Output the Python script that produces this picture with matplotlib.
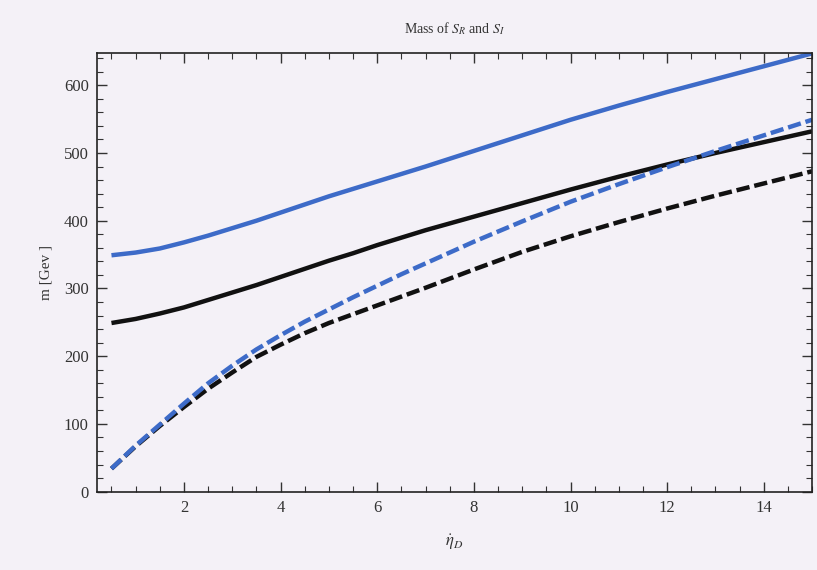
import matplotlib
matplotlib.use("Agg")
import matplotlib.pyplot as plt
from matplotlib.ticker import MultipleLocator

x = [0.5, 1, 1.5, 2, 2.5, 3, 3.5, 4, 4.5, 5, 5.5, 6, 6.5, 7, 8, 9, 10, 11, 12, 13, 14, 15]
blue_solid = [349, 353, 359, 368, 378, 389, 400, 412, 424, 436, 447, 458, 469, 480, 503, 526, 549, 570, 590, 609, 628, 647]
black_solid = [249, 255, 263, 272, 283, 294, 305, 317, 329, 341, 352, 364, 375, 386, 406, 426, 446, 465, 483, 500, 516, 532]
blue_dashed = [34, 68, 99, 130, 160, 186, 210, 231, 251, 269, 287, 304, 321, 337, 369, 399, 428, 454, 479, 503, 526, 549]
black_dashed = [34, 67, 97, 125, 152, 176, 199, 217, 234, 249, 262, 275, 288, 301, 328, 354, 377, 398, 418, 437, 455, 473]

title = r"Mass of $S_R$ and $S_I$"
xlabel = r"$\dot{\eta}_D$"
ylabel = "m [Gev ]"

plt.rcParams['font.family'] = ['Liberation Serif', 'DejaVu Serif']
plt.rcParams['mathtext.fontset'] = 'stix'

bg = '#f4f1f7'
fig = plt.figure(figsize=(8.17, 5.70), dpi=100, facecolor=bg)
ax = fig.add_axes([0.1187, 0.1374, 0.8753, 0.7701], facecolor=bg)

blue = '#3d6bc8'
lw = 3.2
ax.plot(x, black_dashed, color='#111111', lw=lw, dashes=(3.0, 1.1), dash_capstyle='butt')
ax.plot(x, black_solid, color='#111111', lw=lw, solid_capstyle='butt', solid_joinstyle='round')
ax.plot(x, blue_solid, color=blue, lw=lw, solid_capstyle='butt', solid_joinstyle='round')
ax.plot(x, blue_dashed, color=blue, lw=lw, dashes=(3.0, 1.1), dash_capstyle='butt')

ax.set_xlim(0.2, 15.0)
ax.set_ylim(0, 648)
ax.xaxis.set_major_locator(MultipleLocator(2))
ax.xaxis.set_minor_locator(MultipleLocator(0.5))
ax.yaxis.set_major_locator(MultipleLocator(100))
ax.yaxis.set_minor_locator(MultipleLocator(20))
ax.tick_params(which='both', direction='in', top=True, right=True, color='#333333')
ax.tick_params(which='major', length=7, width=1.0, labelsize=12, pad=6, labelcolor='#333333')
ax.tick_params(which='minor', length=4, width=0.8)
for s in ax.spines.values():
    s.set_color('#222222')
    s.set_linewidth(1.2)

ax.set_title(title, fontsize=10, pad=14, color='#333333')
ax.set_xlabel(xlabel, fontsize=12, labelpad=12, color='#333333')
ax.set_ylabel(ylabel, fontsize=11, labelpad=8, color='#333333')

fig.savefig('out.png', dpi=100, facecolor=bg)
